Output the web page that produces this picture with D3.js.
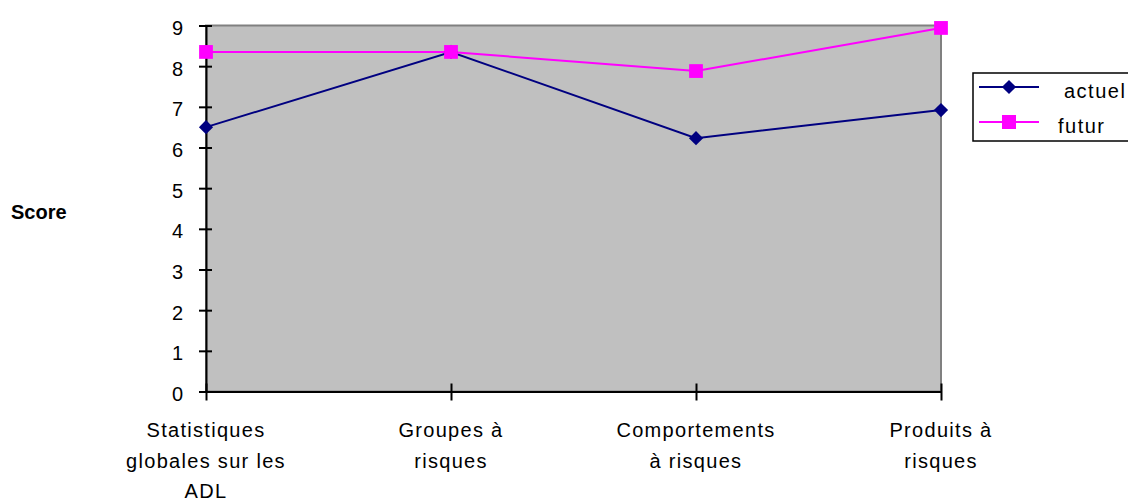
<!DOCTYPE html>
<html lang="fr">
<head>
    <meta charset="UTF-8">
    <title>Score actuel / futur</title>
    <script src="https://d3js.org/d3.v7.min.js"></script>
    <style>
        body {
            margin: 0;
            background: #ffffff;
            font-family: "Liberation Sans", Arial, sans-serif;
        }
        svg text {
            font-family: "Liberation Sans", Arial, sans-serif;
            font-size: 20px;
            fill: #000;
        }
        .cat-label {
            letter-spacing: 1.3px;
        }
    </style>
</head>
<body>
    <div id="chart"></div>
    <script>
        // Données
        const categories = [
            ["Statistiques", "globales sur les", "ADL"],
            ["Groupes à", "risques"],
            ["Comportements", "à risques"],
            ["Produits à", "risques"]
        ];
        const actuel = [6.5, 8.35, 6.23, 6.92];
        const futur = [8.35, 8.35, 7.88, 8.94];
        const yTicks = [0, 1, 2, 3, 4, 5, 6, 7, 8, 9];
        const seriesNames = ["actuel", "futur"];

        const W = 1128, H = 501;
        const plotLeft = 206, plotRight = 941, plotTop = 25.5, plotBottom = 391.5;

        const svg = d3.select("#chart").append("svg")
            .attr("width", W)
            .attr("height", H);

        const x = d3.scalePoint()
            .domain(d3.range(categories.length))
            .range([plotLeft, plotRight]);

        const y = d3.scaleLinear()
            .domain([0, 9])
            .range([plotBottom, plotTop]);

        // zone de tracé grise
        svg.append("rect")
            .attr("x", plotLeft)
            .attr("y", plotTop)
            .attr("width", plotRight - plotLeft)
            .attr("height", plotBottom - plotTop)
            .attr("fill", "#c0c0c0")
            .attr("stroke", "#808080")
            .attr("stroke-width", 2);

        // axe Y
        const yAxis = svg.append("g")
            .attr("transform", `translate(${plotLeft},0)`)
            .call(d3.axisLeft(y).tickValues(yTicks).tickSize(0).tickPadding(23));
        yAxis.select(".domain").attr("stroke", "#000").attr("stroke-width", 2);
        yAxis.selectAll(".tick text").style("font-size", "20px").attr("dy", "0.45em");
        yAxis.selectAll(".tick").append("line")
            .attr("x1", -7).attr("x2", 6)
            .attr("stroke", "#000").attr("stroke-width", 2);

        // axe X
        const xAxis = svg.append("g")
            .attr("transform", `translate(0,${plotBottom})`)
            .call(d3.axisBottom(x).tickSize(0).tickFormat(""));
        xAxis.select(".domain").attr("stroke", "#000").attr("stroke-width", 2);
        xAxis.selectAll(".tick").append("line")
            .attr("y1", -8).attr("y2", 9)
            .attr("stroke", "#000").attr("stroke-width", 2);

        // libellés de catégories
        categories.forEach((lines, i) => {
            const t = svg.append("text")
                .attr("class", "cat-label")
                .attr("text-anchor", "middle")
                .attr("x", x(i))
                .attr("y", 437);
            lines.forEach((ln, j) => {
                t.append("tspan")
                    .attr("x", x(i))
                    .attr("dy", j === 0 ? 0 : 30.5)
                    .text(ln);
            });
        });

        // titre axe Y
        svg.append("text")
            .attr("x", 11)
            .attr("y", 219)
            .style("font-weight", "bold")
            .text("Score");

        const line = d3.line()
            .x((d, i) => x(i))
            .y(d => y(d));

        const diamond = d3.symbol().type(d3.symbolSquare).size(100);
        const square = d3.symbol().type(d3.symbolSquare).size(190);

        // série actuel
        svg.append("path")
            .datum(actuel)
            .attr("d", line)
            .attr("fill", "none")
            .attr("stroke", "#000080")
            .attr("stroke-width", 2);

        // série futur
        svg.append("path")
            .datum(futur)
            .attr("d", line)
            .attr("fill", "none")
            .attr("stroke", "#ff00ff")
            .attr("stroke-width", 2);

        svg.append("g").selectAll("path")
            .data(actuel)
            .join("path")
            .attr("d", diamond)
            .attr("transform", (d, i) => `translate(${x(i)},${y(d)}) rotate(45)`)
            .attr("fill", "#000080");

        svg.append("g").selectAll("path")
            .data(futur)
            .join("path")
            .attr("d", square)
            .attr("transform", (d, i) => `translate(${x(i)},${y(d)})`)
            .attr("fill", "#ff00ff");

        // légende
        const legend = svg.append("g");
        legend.append("rect")
            .attr("x", 973)
            .attr("y", 73)
            .attr("width", 170)
            .attr("height", 68)
            .attr("fill", "#fff")
            .attr("stroke", "#000")
            .attr("stroke-width", 1.5);

        const legendItems = [
            { name: seriesNames[0], color: "#000080", sym: diamond, rot: 45, ty: 87, tx: 1064, by: 98 },
            { name: seriesNames[1], color: "#ff00ff", sym: d3.symbol().type(d3.symbolSquare).size(196), rot: 0, ty: 122, tx: 1058, by: 133 }
        ];
        legendItems.forEach(it => {
            legend.append("line")
                .attr("x1", 979).attr("x2", 1039)
                .attr("y1", it.ty).attr("y2", it.ty)
                .attr("stroke", it.color).attr("stroke-width", 2);
            legend.append("path")
                .attr("d", it.sym)
                .attr("transform", `translate(1009,${it.ty}) rotate(${it.rot})`)
                .attr("fill", it.color);
            legend.append("text")
                .attr("x", it.tx)
                .attr("y", it.by)
                .style("letter-spacing", "1.5px")
                .text(it.name);
        });
    </script>
</body>
</html>
